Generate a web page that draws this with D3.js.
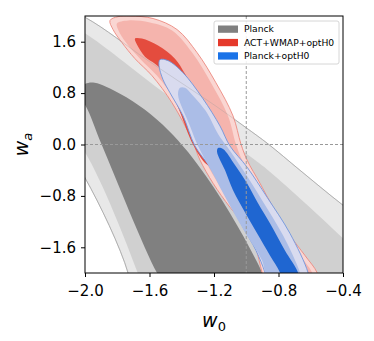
<!DOCTYPE html>
<html>
<head>
<meta charset="utf-8">
<script src="https://cdn.jsdelivr.net/npm/d3@7"></script>
<style>
  body { margin: 0; background: #fff; }
  svg { display: block; font-family: "DejaVu Sans", sans-serif; }
</style>
</head>
<body>
<div id="graph"></div>
<script>
// contour outlines in (w0, wa); points outside the box get clipped
const planckOuter = [[-2.3, 2.3], [-2.0, 1.98], [-1.6, 1.29], [-1.19, 0.6], [-1.0, 0.26], [-0.865, 0.01],
  [-0.667, -0.4], [-0.4, -0.945], [-0.1, -1.5], [0.1, -2.1], [0.1, -2.6], [-1.7, -2.6], [-1.733, -2.0],
  [-2.0, -0.52], [-2.2, 0.2]]
const planckMid = [[-2.2, 2.0], [-2.0, 1.73], [-1.55, 0.88], [-0.99, -0.16], [-0.85, -0.43], [-0.4, -1.46],
  [-0.15, -2.1], [-0.1, -2.6], [-1.6, -2.6], [-1.67, -2.02], [-2.0, -0.12], [-2.2, 0.5]]
const planckInner = [[-2.06, 0.8], [-2.0, 0.94], [-1.94, 0.96], [-1.783, 0.789], [-1.628, 0.539],
  [-1.485, 0.227], [-1.361, -0.117], [-1.25, -0.492], [-1.15, -0.867], [-1.057, -1.258], [-0.977, -1.617],
  [-0.902, -1.992], [-0.85, -2.4], [-1.45, -2.4], [-1.553, -2.0], [-1.895, -0.01], [-2.0, 0.62]]

const actOuter = [[-1.845, 1.93], [-1.826, 1.789], [-1.771, 1.586], [-1.69, 1.336], [-1.584, 1.07],
  [-1.46, 0.648], [-1.336, 0.07], [-1.287, -0.242], [-1.206, -0.602], [-1.101, -0.977], [-1.008, -1.258],
  [-0.946, -1.57], [-0.902, -1.992], [-0.878, -2.195], [-0.543, -2.195], [-0.561, -1.992], [-0.636, -1.727],
  [-0.729, -1.414], [-0.834, -0.977], [-0.915, -0.602], [-0.995, -0.242], [-1.033, 0.008], [-1.082, 0.445],
  [-1.188, 0.961], [-1.305, 1.43], [-1.429, 1.789], [-1.578, 1.961], [-1.721, 2.0], [-1.795, 1.99]]
const actMid = [[-1.802, 1.883], [-1.795, 1.789], [-1.746, 1.586], [-1.659, 1.336], [-1.553, 1.07],
  [-1.429, 0.648], [-1.305, 0.07], [-1.256, -0.242], [-1.175, -0.602], [-1.07, -0.977], [-0.977, -1.258],
  [-0.921, -1.57], [-0.878, -1.992], [-0.853, -2.195], [-0.574, -2.195], [-0.592, -1.992], [-0.667, -1.727],
  [-0.76, -1.414], [-0.865, -0.977], [-0.946, -0.602], [-1.026, -0.242], [-1.064, 0.008], [-1.113, 0.445],
  [-1.219, 0.961], [-1.336, 1.43], [-1.46, 1.773], [-1.597, 1.898], [-1.733, 1.93]]
const actInner = [[-1.69, 1.648], [-1.678, 1.555], [-1.628, 1.367], [-1.566, 1.258], [-1.516, 1.133],
  [-1.46, 0.8], [-1.41, 0.5], [-1.33, 0.0], [-1.25, -0.3], [-1.2, -0.35], [-1.15, -0.15], [-1.2, 0.25],
  [-1.3, 0.75], [-1.38, 1.102], [-1.442, 1.336], [-1.547, 1.539], [-1.647, 1.648]]

const optOuter = [[-1.535, 1.32], [-1.541, 1.227], [-1.516, 1.008], [-1.473, 0.805], [-1.392, 0.445],
  [-1.318, -0.023], [-1.225, -0.352], [-1.119, -0.82], [-1.02, -1.289], [-0.94, -1.648], [-0.884, -1.992],
  [-0.865, -2.195], [-0.605, -2.195], [-0.617, -1.992], [-0.729, -1.383], [-0.871, -0.82], [-0.995, -0.352],
  [-1.101, -0.023], [-1.163, 0.289], [-1.268, 0.711], [-1.392, 1.117], [-1.485, 1.305]]
const optMid = [[-1.411, 0.883], [-1.423, 0.773], [-1.349, 0.289], [-1.299, -0.023], [-1.212, -0.43],
  [-1.113, -0.898], [-1.008, -1.367], [-0.902, -1.805], [-0.853, -2.195], [-0.648, -2.195], [-0.667, -1.992],
  [-0.772, -1.414], [-0.902, -0.867], [-1.02, -0.398], [-1.113, -0.055], [-1.175, 0.164], [-1.243, 0.492],
  [-1.336, 0.773], [-1.38, 0.883]]
const optInner = [[-1.175, -0.055], [-1.181, -0.117], [-1.132, -0.398], [-1.082, -0.711], [-1.008, -1.055],
  [-0.933, -1.383], [-0.853, -1.727], [-0.791, -1.992], [-0.772, -2.195], [-0.667, -2.195], [-0.679, -1.992],
  [-0.76, -1.648], [-0.853, -1.227], [-0.927, -0.914], [-0.995, -0.602], [-1.07, -0.32], [-1.144, -0.07]]

const xTicks = [-2.0, -1.6, -1.2, -0.8, -0.4]
const yTicks = [-1.6, -0.8, 0.0, 0.8, 1.6]
const legendLabels = ['Planck', 'ACT+WMAP+optH0', 'Planck+optH0']
const legendColors = ['#808080', '#e5392b', '#1a73e8']

const total_width = 374
const total_height = 341
const margins = { top: 16, left: 85, right: 31, bottom: 68 }
const width = total_width - margins.left - margins.right
const height = total_height - margins.top - margins.bottom

const svg = d3.select('#graph').append('svg')
  .attr('width', total_width)
  .attr('height', total_height)

const g = svg.append('g')
  .attr('transform', `translate(${margins.left}, ${margins.top})`)

const x = d3.scaleLinear().domain([-2, -0.4]).range([0, width])
const y = d3.scaleLinear().domain([-2, 2]).range([height, 0])

g.append('clipPath').attr('id', 'plotclip')
  .append('rect').attr('width', width).attr('height', height)

const plot = g.append('g').attr('clip-path', 'url(#plotclip)')

const shape = d3.line()
  .x(d => x(d[0]))
  .y(d => y(d[1]))
  .curve(d3.curveCatmullRomClosed.alpha(0.5))

function contour(data, fill, stroke, sw) {
  plot.append('path')
    .datum(data)
    .attr('d', shape)
    .attr('fill', fill)
    .attr('stroke', stroke || 'none')
    .attr('stroke-width', sw || 0)
}

// Planck
contour(planckOuter, '#e8e8e8', '#b4b4b4', 0.9)
contour(planckMid, '#d0d0d0')
contour(planckInner, '#808080')

// ACT+WMAP+optH0
contour(actOuter, '#fad6d2', '#ec8a80', 0.9)
contour(actMid, '#f5b4ad')
contour(actInner, '#e44c3e')

// Planck+optH0
contour(optOuter, '#d9dbef', '#6f95de', 0.9)
contour(optMid, '#abbde7')
contour(optInner, '#1f66d1')

// faint Planck edge showing through
plot.append('path')
  .datum(planckOuter)
  .attr('d', shape)
  .attr('fill', 'none')
  .attr('stroke', '#999')
  .attr('stroke-width', 0.7)
  .attr('opacity', 0.45)

// reference lines
plot.append('line')
  .attr('x1', x(-1)).attr('x2', x(-1))
  .attr('y1', 0).attr('y2', height)
  .attr('stroke', '#999').attr('stroke-width', 1).attr('stroke-dasharray', '3,2')
plot.append('line')
  .attr('x1', 0).attr('x2', width)
  .attr('y1', y(0)).attr('y2', y(0))
  .attr('stroke', '#999').attr('stroke-width', 1).attr('stroke-dasharray', '3,2')

// frame
g.append('rect')
  .attr('width', width).attr('height', height)
  .attr('fill', 'none').attr('stroke', '#000').attr('stroke-width', 1)

const fmt = d3.format('.1f')
const xAxis = g.append('g')
  .attr('transform', `translate(0, ${height})`)
  .call(d3.axisBottom(x).tickValues(xTicks).tickFormat(fmt).tickSize(4).tickPadding(8).tickSizeOuter(0))
const yAxis = g.append('g')
  .call(d3.axisLeft(y).tickValues(yTicks).tickFormat(fmt).tickSize(4).tickPadding(5).tickSizeOuter(0))

;[xAxis, yAxis].forEach(a => {
  a.select('.domain').remove()
  a.selectAll('text').attr('font-size', 15).attr('font-family', '"DejaVu Sans", sans-serif').attr('fill', '#000')
})

// axis labels
svg.append('text')
  .attr('x', margins.left + width / 2)
  .attr('y', 327)
  .attr('text-anchor', 'middle')
  .attr('font-size', 19)
  .html('<tspan font-style="italic">w</tspan><tspan font-size="13" dy="4">0</tspan>')

svg.append('text')
  .attr('transform', `translate(28, ${margins.top + height / 2}) rotate(-90)`)
  .attr('text-anchor', 'middle')
  .attr('font-size', 19)
  .html('<tspan font-style="italic">w</tspan><tspan font-size="13" font-style="italic" dy="4">a</tspan>')

// legend
const legend = svg.append('g').attr('transform', 'translate(214, 21)')
legend.append('rect')
  .attr('width', 125).attr('height', 43)
  .attr('rx', 2)
  .attr('fill', 'rgba(255,255,255,0.85)')
  .attr('stroke', '#ccc').attr('stroke-width', 0.8)
legendLabels.forEach((label, i) => {
  legend.append('rect')
    .attr('x', 4).attr('y', 4.5 + i * 13.4)
    .attr('width', 20).attr('height', 7.3)
    .attr('fill', legendColors[i])
  legend.append('text')
    .attr('x', 30).attr('y', 8.2 + i * 13.4)
    .attr('dy', '0.35em')
    .attr('font-size', 9.2)
    .attr('fill', '#000')
    .text(label)
})
</script>
</body>
</html>
